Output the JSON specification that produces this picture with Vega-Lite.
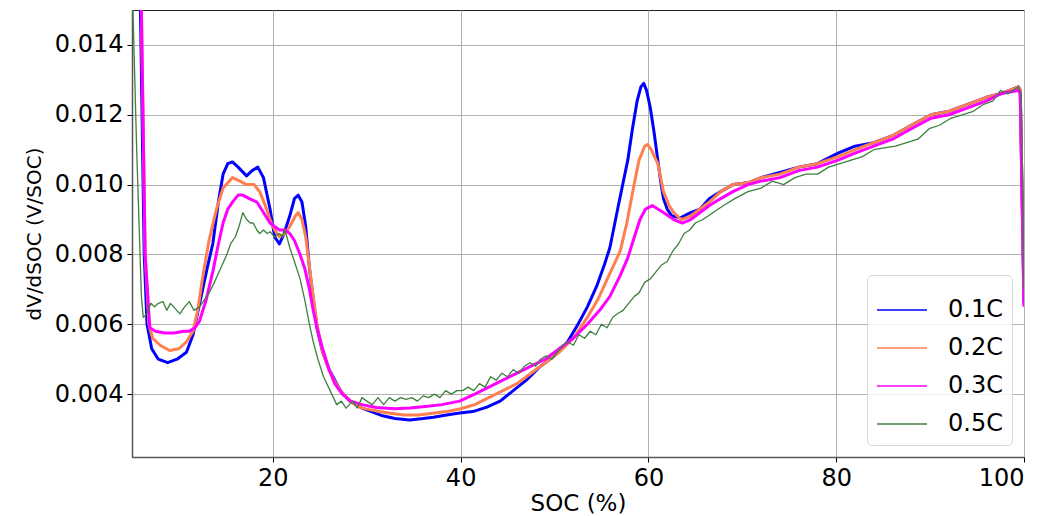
{
  "$schema": "https://vega.github.io/schema/vega-lite/v6.json",
  "width": 892,
  "height": 447,
  "autosize": "none",
  "padding": {"left": 132, "top": 10, "right": 28, "bottom": 59},
  "background": "white",
  "config": {
    "font": "DejaVu Sans",
    "view": {"stroke": "#222", "strokeWidth": 1},
    "axis": {
      "labelFont": "DejaVu Sans", "titleFont": "DejaVu Sans",
      "labelFontSize": 24, "titleFontSize": 23, "labelColor": "#000", "titleColor": "#000",
      "titleFontWeight": "normal", "gridColor": "#b0b0b0", "gridWidth": 1, "gridOpacity": 1,
      "domainColor": "#555", "domainWidth": 1.5, "tickColor": "#000", "tickSize": 5, "labelPadding": 4
    },
    "legend": {"symbolStrokeWidth": 1.5}
  },
  "data": {"values": [
    {"soc":5.3,"v":0.02,"rate":"0.1C"},{"soc":5.9,"v":0.015,"rate":"0.1C"},{"soc":6.3,"v":0.008,"rate":"0.1C"},{"soc":6.6,"v":0.006,"rate":"0.1C"},{"soc":7.1,"v":0.0053,"rate":"0.1C"},{"soc":7.8,"v":0.005,"rate":"0.1C"},{"soc":8.8,"v":0.0049,"rate":"0.1C"},{"soc":9.8,"v":0.005,"rate":"0.1C"},{"soc":10.8,"v":0.0052,"rate":"0.1C"},{"soc":11.5,"v":0.0057,"rate":"0.1C"},{"soc":12.2,"v":0.0066,"rate":"0.1C"},{"soc":13.0,"v":0.0076,"rate":"0.1C"},{"soc":13.6,"v":0.0083,"rate":"0.1C"},{"soc":14.2,"v":0.0095,"rate":"0.1C"},{"soc":14.7,"v":0.0103,"rate":"0.1C"},{"soc":15.2,"v":0.0106,"rate":"0.1C"},{"soc":15.7,"v":0.01065,"rate":"0.1C"},{"soc":16.3,"v":0.0105,"rate":"0.1C"},{"soc":17.2,"v":0.01025,"rate":"0.1C"},{"soc":17.8,"v":0.0104,"rate":"0.1C"},{"soc":18.4,"v":0.0105,"rate":"0.1C"},{"soc":19.0,"v":0.0102,"rate":"0.1C"},{"soc":19.7,"v":0.0093,"rate":"0.1C"},{"soc":20.2,"v":0.0085,"rate":"0.1C"},{"soc":20.7,"v":0.0083,"rate":"0.1C"},{"soc":21.2,"v":0.0086,"rate":"0.1C"},{"soc":21.8,"v":0.0091,"rate":"0.1C"},{"soc":22.3,"v":0.0096,"rate":"0.1C"},{"soc":22.7,"v":0.0097,"rate":"0.1C"},{"soc":23.1,"v":0.0095,"rate":"0.1C"},{"soc":23.5,"v":0.0088,"rate":"0.1C"},{"soc":23.9,"v":0.0076,"rate":"0.1C"},{"soc":24.3,"v":0.0067,"rate":"0.1C"},{"soc":24.7,"v":0.0059,"rate":"0.1C"},{"soc":25.3,"v":0.0052,"rate":"0.1C"},{"soc":26.0,"v":0.0047,"rate":"0.1C"},{"soc":26.4,"v":0.0045,"rate":"0.1C"},{"soc":27.2,"v":0.0041,"rate":"0.1C"},{"soc":28.2,"v":0.0038,"rate":"0.1C"},{"soc":29.5,"v":0.0036,"rate":"0.1C"},{"soc":30.5,"v":0.0035,"rate":"0.1C"},{"soc":31.7,"v":0.00338,"rate":"0.1C"},{"soc":33.0,"v":0.0033,"rate":"0.1C"},{"soc":34.6,"v":0.00326,"rate":"0.1C"},{"soc":36.0,"v":0.0033,"rate":"0.1C"},{"soc":37.1,"v":0.00334,"rate":"0.1C"},{"soc":38.5,"v":0.0034,"rate":"0.1C"},{"soc":39.9,"v":0.00346,"rate":"0.1C"},{"soc":41.3,"v":0.0035,"rate":"0.1C"},{"soc":42.8,"v":0.00363,"rate":"0.1C"},{"soc":44.2,"v":0.0038,"rate":"0.1C"},{"soc":45.6,"v":0.0041,"rate":"0.1C"},{"soc":47.0,"v":0.0044,"rate":"0.1C"},{"soc":48.5,"v":0.0048,"rate":"0.1C"},{"soc":50.0,"v":0.0051,"rate":"0.1C"},{"soc":51.4,"v":0.0055,"rate":"0.1C"},{"soc":52.5,"v":0.006,"rate":"0.1C"},{"soc":53.5,"v":0.0065,"rate":"0.1C"},{"soc":54.5,"v":0.0071,"rate":"0.1C"},{"soc":55.3,"v":0.0077,"rate":"0.1C"},{"soc":55.9,"v":0.0082,"rate":"0.1C"},{"soc":56.8,"v":0.0094,"rate":"0.1C"},{"soc":57.8,"v":0.0107,"rate":"0.1C"},{"soc":58.3,"v":0.0116,"rate":"0.1C"},{"soc":58.8,"v":0.0124,"rate":"0.1C"},{"soc":59.2,"v":0.0128,"rate":"0.1C"},{"soc":59.5,"v":0.0129,"rate":"0.1C"},{"soc":59.8,"v":0.0127,"rate":"0.1C"},{"soc":60.2,"v":0.0122,"rate":"0.1C"},{"soc":60.6,"v":0.0115,"rate":"0.1C"},{"soc":61.0,"v":0.0107,"rate":"0.1C"},{"soc":61.3,"v":0.0101,"rate":"0.1C"},{"soc":61.6,"v":0.0096,"rate":"0.1C"},{"soc":62.0,"v":0.0093,"rate":"0.1C"},{"soc":62.5,"v":0.0091,"rate":"0.1C"},{"soc":63.4,"v":0.00905,"rate":"0.1C"},{"soc":64.5,"v":0.0092,"rate":"0.1C"},{"soc":65.5,"v":0.0093,"rate":"0.1C"},{"soc":66.5,"v":0.0096,"rate":"0.1C"},{"soc":67.7,"v":0.0098,"rate":"0.1C"},{"soc":69.0,"v":0.01,"rate":"0.1C"},{"soc":70.6,"v":0.01005,"rate":"0.1C"},{"soc":72.0,"v":0.0102,"rate":"0.1C"},{"soc":74.0,"v":0.01035,"rate":"0.1C"},{"soc":76.0,"v":0.0105,"rate":"0.1C"},{"soc":78.0,"v":0.0106,"rate":"0.1C"},{"soc":80.2,"v":0.0109,"rate":"0.1C"},{"soc":82.0,"v":0.0111,"rate":"0.1C"},{"soc":84.0,"v":0.0112,"rate":"0.1C"},{"soc":86.0,"v":0.0114,"rate":"0.1C"},{"soc":88.0,"v":0.0117,"rate":"0.1C"},{"soc":90.1,"v":0.012,"rate":"0.1C"},{"soc":92.0,"v":0.0121,"rate":"0.1C"},{"soc":94.0,"v":0.0123,"rate":"0.1C"},{"soc":96.0,"v":0.0125,"rate":"0.1C"},{"soc":97.5,"v":0.0126,"rate":"0.1C"},{"soc":99.4,"v":0.0128,"rate":"0.1C"},{"soc":99.6,"v":0.0127,"rate":"0.1C"},{"soc":100.0,"v":0.0066,"rate":"0.1C"},

    {"soc":5.4,"v":0.02,"rate":"0.2C"},{"soc":6.0,"v":0.015,"rate":"0.2C"},{"soc":6.4,"v":0.008,"rate":"0.2C"},{"soc":6.8,"v":0.006,"rate":"0.2C"},{"soc":7.2,"v":0.0056,"rate":"0.2C"},{"soc":8.0,"v":0.0054,"rate":"0.2C"},{"soc":9.0,"v":0.00525,"rate":"0.2C"},{"soc":10.0,"v":0.0053,"rate":"0.2C"},{"soc":10.8,"v":0.0055,"rate":"0.2C"},{"soc":11.5,"v":0.0058,"rate":"0.2C"},{"soc":12.0,"v":0.0064,"rate":"0.2C"},{"soc":12.5,"v":0.0073,"rate":"0.2C"},{"soc":13.2,"v":0.0084,"rate":"0.2C"},{"soc":14.0,"v":0.0093,"rate":"0.2C"},{"soc":14.7,"v":0.0099,"rate":"0.2C"},{"soc":15.7,"v":0.0102,"rate":"0.2C"},{"soc":16.5,"v":0.0101,"rate":"0.2C"},{"soc":17.2,"v":0.01,"rate":"0.2C"},{"soc":18.0,"v":0.01,"rate":"0.2C"},{"soc":18.6,"v":0.0098,"rate":"0.2C"},{"soc":19.2,"v":0.0094,"rate":"0.2C"},{"soc":19.7,"v":0.009,"rate":"0.2C"},{"soc":20.2,"v":0.0087,"rate":"0.2C"},{"soc":20.7,"v":0.0085,"rate":"0.2C"},{"soc":21.3,"v":0.0086,"rate":"0.2C"},{"soc":21.8,"v":0.0088,"rate":"0.2C"},{"soc":22.4,"v":0.0091,"rate":"0.2C"},{"soc":22.7,"v":0.0092,"rate":"0.2C"},{"soc":23.1,"v":0.009,"rate":"0.2C"},{"soc":23.5,"v":0.0085,"rate":"0.2C"},{"soc":24.2,"v":0.007,"rate":"0.2C"},{"soc":24.7,"v":0.006,"rate":"0.2C"},{"soc":25.3,"v":0.0052,"rate":"0.2C"},{"soc":26.0,"v":0.0047,"rate":"0.2C"},{"soc":26.5,"v":0.0044,"rate":"0.2C"},{"soc":27.2,"v":0.0041,"rate":"0.2C"},{"soc":28.2,"v":0.0038,"rate":"0.2C"},{"soc":29.5,"v":0.0036,"rate":"0.2C"},{"soc":31.0,"v":0.00352,"rate":"0.2C"},{"soc":32.5,"v":0.00345,"rate":"0.2C"},{"soc":34.0,"v":0.0034,"rate":"0.2C"},{"soc":35.5,"v":0.0034,"rate":"0.2C"},{"soc":37.0,"v":0.00345,"rate":"0.2C"},{"soc":38.5,"v":0.0035,"rate":"0.2C"},{"soc":40.0,"v":0.00358,"rate":"0.2C"},{"soc":41.5,"v":0.0037,"rate":"0.2C"},{"soc":43.0,"v":0.0039,"rate":"0.2C"},{"soc":44.5,"v":0.0041,"rate":"0.2C"},{"soc":46.0,"v":0.0043,"rate":"0.2C"},{"soc":47.5,"v":0.0046,"rate":"0.2C"},{"soc":49.0,"v":0.0049,"rate":"0.2C"},{"soc":50.5,"v":0.0052,"rate":"0.2C"},{"soc":52.0,"v":0.0056,"rate":"0.2C"},{"soc":53.5,"v":0.0062,"rate":"0.2C"},{"soc":54.6,"v":0.0067,"rate":"0.2C"},{"soc":55.8,"v":0.0074,"rate":"0.2C"},{"soc":57.0,"v":0.0081,"rate":"0.2C"},{"soc":57.7,"v":0.0089,"rate":"0.2C"},{"soc":58.4,"v":0.0099,"rate":"0.2C"},{"soc":59.0,"v":0.0107,"rate":"0.2C"},{"soc":59.6,"v":0.0111,"rate":"0.2C"},{"soc":59.9,"v":0.01115,"rate":"0.2C"},{"soc":60.3,"v":0.011,"rate":"0.2C"},{"soc":61.0,"v":0.0106,"rate":"0.2C"},{"soc":61.6,"v":0.0098,"rate":"0.2C"},{"soc":62.2,"v":0.0094,"rate":"0.2C"},{"soc":62.7,"v":0.0092,"rate":"0.2C"},{"soc":63.5,"v":0.009,"rate":"0.2C"},{"soc":64.5,"v":0.0091,"rate":"0.2C"},{"soc":65.5,"v":0.0093,"rate":"0.2C"},{"soc":66.5,"v":0.0095,"rate":"0.2C"},{"soc":67.7,"v":0.0098,"rate":"0.2C"},{"soc":69.0,"v":0.01,"rate":"0.2C"},{"soc":70.6,"v":0.01005,"rate":"0.2C"},{"soc":72.0,"v":0.0102,"rate":"0.2C"},{"soc":74.0,"v":0.0103,"rate":"0.2C"},{"soc":76.0,"v":0.0105,"rate":"0.2C"},{"soc":78.0,"v":0.0106,"rate":"0.2C"},{"soc":80.2,"v":0.0108,"rate":"0.2C"},{"soc":82.0,"v":0.011,"rate":"0.2C"},{"soc":84.0,"v":0.0112,"rate":"0.2C"},{"soc":86.0,"v":0.0114,"rate":"0.2C"},{"soc":88.0,"v":0.0117,"rate":"0.2C"},{"soc":90.1,"v":0.012,"rate":"0.2C"},{"soc":92.0,"v":0.0121,"rate":"0.2C"},{"soc":94.0,"v":0.0123,"rate":"0.2C"},{"soc":96.0,"v":0.0125,"rate":"0.2C"},{"soc":97.5,"v":0.0126,"rate":"0.2C"},{"soc":99.4,"v":0.0128,"rate":"0.2C"},{"soc":99.6,"v":0.0127,"rate":"0.2C"},{"soc":100.0,"v":0.0068,"rate":"0.2C"},

    {"soc":5.5,"v":0.02,"rate":"0.3C"},{"soc":6.0,"v":0.015,"rate":"0.3C"},{"soc":6.4,"v":0.008,"rate":"0.3C"},{"soc":6.9,"v":0.0059,"rate":"0.3C"},{"soc":7.5,"v":0.0058,"rate":"0.3C"},{"soc":8.5,"v":0.00575,"rate":"0.3C"},{"soc":9.5,"v":0.00575,"rate":"0.3C"},{"soc":10.5,"v":0.0058,"rate":"0.3C"},{"soc":11.1,"v":0.0058,"rate":"0.3C"},{"soc":11.7,"v":0.0059,"rate":"0.3C"},{"soc":12.2,"v":0.0061,"rate":"0.3C"},{"soc":12.9,"v":0.0067,"rate":"0.3C"},{"soc":13.6,"v":0.0075,"rate":"0.3C"},{"soc":14.2,"v":0.0083,"rate":"0.3C"},{"soc":14.7,"v":0.0089,"rate":"0.3C"},{"soc":15.2,"v":0.0093,"rate":"0.3C"},{"soc":15.7,"v":0.0095,"rate":"0.3C"},{"soc":16.3,"v":0.0097,"rate":"0.3C"},{"soc":16.8,"v":0.0097,"rate":"0.3C"},{"soc":17.5,"v":0.0096,"rate":"0.3C"},{"soc":18.3,"v":0.0095,"rate":"0.3C"},{"soc":19.0,"v":0.0092,"rate":"0.3C"},{"soc":19.7,"v":0.0089,"rate":"0.3C"},{"soc":20.2,"v":0.0088,"rate":"0.3C"},{"soc":20.7,"v":0.0087,"rate":"0.3C"},{"soc":21.3,"v":0.0087,"rate":"0.3C"},{"soc":21.8,"v":0.0086,"rate":"0.3C"},{"soc":22.3,"v":0.0084,"rate":"0.3C"},{"soc":22.9,"v":0.008,"rate":"0.3C"},{"soc":23.4,"v":0.0076,"rate":"0.3C"},{"soc":23.9,"v":0.007,"rate":"0.3C"},{"soc":24.3,"v":0.0064,"rate":"0.3C"},{"soc":24.7,"v":0.0059,"rate":"0.3C"},{"soc":25.3,"v":0.0053,"rate":"0.3C"},{"soc":26.0,"v":0.0047,"rate":"0.3C"},{"soc":26.6,"v":0.0043,"rate":"0.3C"},{"soc":27.4,"v":0.004,"rate":"0.3C"},{"soc":28.3,"v":0.0038,"rate":"0.3C"},{"soc":29.5,"v":0.0037,"rate":"0.3C"},{"soc":31.0,"v":0.00362,"rate":"0.3C"},{"soc":33.0,"v":0.00358,"rate":"0.3C"},{"soc":34.6,"v":0.0036,"rate":"0.3C"},{"soc":36.5,"v":0.00365,"rate":"0.3C"},{"soc":38.0,"v":0.0037,"rate":"0.3C"},{"soc":39.9,"v":0.0038,"rate":"0.3C"},{"soc":41.5,"v":0.004,"rate":"0.3C"},{"soc":43.0,"v":0.0042,"rate":"0.3C"},{"soc":44.5,"v":0.0044,"rate":"0.3C"},{"soc":46.0,"v":0.0046,"rate":"0.3C"},{"soc":47.5,"v":0.0048,"rate":"0.3C"},{"soc":49.0,"v":0.005,"rate":"0.3C"},{"soc":50.5,"v":0.0053,"rate":"0.3C"},{"soc":52.0,"v":0.0056,"rate":"0.3C"},{"soc":53.5,"v":0.006,"rate":"0.3C"},{"soc":54.8,"v":0.0064,"rate":"0.3C"},{"soc":55.9,"v":0.0068,"rate":"0.3C"},{"soc":57.0,"v":0.0074,"rate":"0.3C"},{"soc":57.8,"v":0.0079,"rate":"0.3C"},{"soc":58.5,"v":0.0085,"rate":"0.3C"},{"soc":59.1,"v":0.009,"rate":"0.3C"},{"soc":59.7,"v":0.0093,"rate":"0.3C"},{"soc":60.4,"v":0.0094,"rate":"0.3C"},{"soc":61.0,"v":0.0093,"rate":"0.3C"},{"soc":61.6,"v":0.0092,"rate":"0.3C"},{"soc":62.7,"v":0.009,"rate":"0.3C"},{"soc":63.6,"v":0.0089,"rate":"0.3C"},{"soc":64.5,"v":0.009,"rate":"0.3C"},{"soc":65.5,"v":0.0092,"rate":"0.3C"},{"soc":66.5,"v":0.0094,"rate":"0.3C"},{"soc":67.7,"v":0.0096,"rate":"0.3C"},{"soc":69.0,"v":0.0098,"rate":"0.3C"},{"soc":70.6,"v":0.01,"rate":"0.3C"},{"soc":72.0,"v":0.0101,"rate":"0.3C"},{"soc":74.0,"v":0.0102,"rate":"0.3C"},{"soc":76.0,"v":0.0104,"rate":"0.3C"},{"soc":78.0,"v":0.0105,"rate":"0.3C"},{"soc":80.2,"v":0.0107,"rate":"0.3C"},{"soc":82.0,"v":0.0109,"rate":"0.3C"},{"soc":84.0,"v":0.0111,"rate":"0.3C"},{"soc":86.0,"v":0.0113,"rate":"0.3C"},{"soc":88.0,"v":0.0116,"rate":"0.3C"},{"soc":90.1,"v":0.0119,"rate":"0.3C"},{"soc":92.0,"v":0.012,"rate":"0.3C"},{"soc":94.0,"v":0.0122,"rate":"0.3C"},{"soc":96.0,"v":0.0124,"rate":"0.3C"},{"soc":97.5,"v":0.0126,"rate":"0.3C"},{"soc":99.4,"v":0.0127,"rate":"0.3C"},{"soc":99.6,"v":0.0126,"rate":"0.3C"},{"soc":100.0,"v":0.0065,"rate":"0.3C"},

    {"soc":5.0,"v":0.016,"rate":"0.5C"},{"soc":5.5,"v":0.011,"rate":"0.5C"},{"soc":6.0,"v":0.0068,"rate":"0.5C"},{"soc":6.2,"v":0.0062,"rate":"0.5C"},{"soc":6.6,"v":0.0063,"rate":"0.5C"},{"soc":7.0,"v":0.0066,"rate":"0.5C"},{"soc":7.4,"v":0.0065,"rate":"0.5C"},{"soc":7.8,"v":0.0066,"rate":"0.5C"},{"soc":8.3,"v":0.00665,"rate":"0.5C"},{"soc":8.7,"v":0.0064,"rate":"0.5C"},{"soc":9.1,"v":0.0066,"rate":"0.5C"},{"soc":9.6,"v":0.00645,"rate":"0.5C"},{"soc":10.1,"v":0.0063,"rate":"0.5C"},{"soc":10.6,"v":0.0065,"rate":"0.5C"},{"soc":11.1,"v":0.00665,"rate":"0.5C"},{"soc":11.6,"v":0.0064,"rate":"0.5C"},{"soc":12.2,"v":0.0065,"rate":"0.5C"},{"soc":12.7,"v":0.0067,"rate":"0.5C"},{"soc":13.2,"v":0.0069,"rate":"0.5C"},{"soc":13.6,"v":0.0071,"rate":"0.5C"},{"soc":14.1,"v":0.0074,"rate":"0.5C"},{"soc":14.6,"v":0.0077,"rate":"0.5C"},{"soc":15.1,"v":0.008,"rate":"0.5C"},{"soc":15.5,"v":0.0083,"rate":"0.5C"},{"soc":16.0,"v":0.0085,"rate":"0.5C"},{"soc":16.4,"v":0.0088,"rate":"0.5C"},{"soc":16.8,"v":0.0092,"rate":"0.5C"},{"soc":17.2,"v":0.009,"rate":"0.5C"},{"soc":17.6,"v":0.0089,"rate":"0.5C"},{"soc":17.9,"v":0.0089,"rate":"0.5C"},{"soc":18.3,"v":0.0087,"rate":"0.5C"},{"soc":18.6,"v":0.0086,"rate":"0.5C"},{"soc":19.0,"v":0.0087,"rate":"0.5C"},{"soc":19.4,"v":0.0086,"rate":"0.5C"},{"soc":19.7,"v":0.00865,"rate":"0.5C"},{"soc":20.2,"v":0.0085,"rate":"0.5C"},{"soc":20.7,"v":0.0086,"rate":"0.5C"},{"soc":21.0,"v":0.0085,"rate":"0.5C"},{"soc":21.3,"v":0.0087,"rate":"0.5C"},{"soc":21.8,"v":0.0082,"rate":"0.5C"},{"soc":22.3,"v":0.0078,"rate":"0.5C"},{"soc":22.9,"v":0.0073,"rate":"0.5C"},{"soc":23.4,"v":0.0067,"rate":"0.5C"},{"soc":23.9,"v":0.006,"rate":"0.5C"},{"soc":24.3,"v":0.0055,"rate":"0.5C"},{"soc":24.8,"v":0.005,"rate":"0.5C"},{"soc":25.4,"v":0.0045,"rate":"0.5C"},{"soc":26.1,"v":0.0041,"rate":"0.5C"},{"soc":26.8,"v":0.0037,"rate":"0.5C"},{"soc":27.3,"v":0.0038,"rate":"0.5C"},{"soc":27.8,"v":0.0036,"rate":"0.5C"},{"soc":28.5,"v":0.0038,"rate":"0.5C"},{"soc":29.0,"v":0.0036,"rate":"0.5C"},{"soc":29.5,"v":0.0039,"rate":"0.5C"},{"soc":30.0,"v":0.0038,"rate":"0.5C"},{"soc":30.6,"v":0.0037,"rate":"0.5C"},{"soc":31.2,"v":0.0039,"rate":"0.5C"},{"soc":31.8,"v":0.0037,"rate":"0.5C"},{"soc":32.4,"v":0.0039,"rate":"0.5C"},{"soc":33.0,"v":0.0038,"rate":"0.5C"},{"soc":33.6,"v":0.0039,"rate":"0.5C"},{"soc":34.2,"v":0.00385,"rate":"0.5C"},{"soc":34.8,"v":0.0039,"rate":"0.5C"},{"soc":35.4,"v":0.0038,"rate":"0.5C"},{"soc":36.0,"v":0.00395,"rate":"0.5C"},{"soc":36.6,"v":0.0039,"rate":"0.5C"},{"soc":37.2,"v":0.004,"rate":"0.5C"},{"soc":37.8,"v":0.0039,"rate":"0.5C"},{"soc":38.4,"v":0.0041,"rate":"0.5C"},{"soc":39.0,"v":0.004,"rate":"0.5C"},{"soc":39.6,"v":0.0041,"rate":"0.5C"},{"soc":40.2,"v":0.0041,"rate":"0.5C"},{"soc":40.8,"v":0.0042,"rate":"0.5C"},{"soc":41.4,"v":0.0041,"rate":"0.5C"},{"soc":42.0,"v":0.0043,"rate":"0.5C"},{"soc":42.6,"v":0.0042,"rate":"0.5C"},{"soc":43.2,"v":0.0045,"rate":"0.5C"},{"soc":43.8,"v":0.0044,"rate":"0.5C"},{"soc":44.4,"v":0.0046,"rate":"0.5C"},{"soc":45.0,"v":0.0045,"rate":"0.5C"},{"soc":45.6,"v":0.0047,"rate":"0.5C"},{"soc":46.2,"v":0.0046,"rate":"0.5C"},{"soc":46.8,"v":0.0048,"rate":"0.5C"},{"soc":47.4,"v":0.0049,"rate":"0.5C"},{"soc":48.0,"v":0.0048,"rate":"0.5C"},{"soc":48.5,"v":0.005,"rate":"0.5C"},{"soc":49.1,"v":0.0051,"rate":"0.5C"},{"soc":49.7,"v":0.005,"rate":"0.5C"},{"soc":50.3,"v":0.0052,"rate":"0.5C"},{"soc":50.9,"v":0.0054,"rate":"0.5C"},{"soc":51.4,"v":0.0055,"rate":"0.5C"},{"soc":52.0,"v":0.0054,"rate":"0.5C"},{"soc":52.6,"v":0.0057,"rate":"0.5C"},{"soc":53.2,"v":0.0056,"rate":"0.5C"},{"soc":53.8,"v":0.0058,"rate":"0.5C"},{"soc":54.4,"v":0.0057,"rate":"0.5C"},{"soc":55.0,"v":0.006,"rate":"0.5C"},{"soc":55.6,"v":0.0059,"rate":"0.5C"},{"soc":56.2,"v":0.0062,"rate":"0.5C"},{"soc":56.7,"v":0.0063,"rate":"0.5C"},{"soc":57.3,"v":0.0064,"rate":"0.5C"},{"soc":57.9,"v":0.0066,"rate":"0.5C"},{"soc":58.5,"v":0.0068,"rate":"0.5C"},{"soc":59.0,"v":0.0069,"rate":"0.5C"},{"soc":59.6,"v":0.0072,"rate":"0.5C"},{"soc":60.2,"v":0.0073,"rate":"0.5C"},{"soc":60.8,"v":0.0075,"rate":"0.5C"},{"soc":61.4,"v":0.0077,"rate":"0.5C"},{"soc":62.0,"v":0.0078,"rate":"0.5C"},{"soc":62.6,"v":0.0081,"rate":"0.5C"},{"soc":63.2,"v":0.0083,"rate":"0.5C"},{"soc":63.8,"v":0.0086,"rate":"0.5C"},{"soc":64.4,"v":0.0087,"rate":"0.5C"},{"soc":65.0,"v":0.0089,"rate":"0.5C"},{"soc":65.8,"v":0.009,"rate":"0.5C"},{"soc":66.9,"v":0.0092,"rate":"0.5C"},{"soc":68.0,"v":0.0094,"rate":"0.5C"},{"soc":69.2,"v":0.0096,"rate":"0.5C"},{"soc":70.6,"v":0.0098,"rate":"0.5C"},{"soc":72.0,"v":0.0099,"rate":"0.5C"},{"soc":73.2,"v":0.0101,"rate":"0.5C"},{"soc":74.4,"v":0.01,"rate":"0.5C"},{"soc":75.6,"v":0.0102,"rate":"0.5C"},{"soc":76.8,"v":0.0103,"rate":"0.5C"},{"soc":78.0,"v":0.0103,"rate":"0.5C"},{"soc":79.2,"v":0.0105,"rate":"0.5C"},{"soc":80.4,"v":0.0106,"rate":"0.5C"},{"soc":81.6,"v":0.0107,"rate":"0.5C"},{"soc":82.8,"v":0.0108,"rate":"0.5C"},{"soc":84.0,"v":0.011,"rate":"0.5C"},{"soc":85.1,"v":0.01105,"rate":"0.5C"},{"soc":86.3,"v":0.0111,"rate":"0.5C"},{"soc":87.5,"v":0.0112,"rate":"0.5C"},{"soc":88.7,"v":0.0113,"rate":"0.5C"},{"soc":89.9,"v":0.0116,"rate":"0.5C"},{"soc":91.0,"v":0.0117,"rate":"0.5C"},{"soc":92.2,"v":0.0119,"rate":"0.5C"},{"soc":93.4,"v":0.012,"rate":"0.5C"},{"soc":94.6,"v":0.0121,"rate":"0.5C"},{"soc":95.7,"v":0.0123,"rate":"0.5C"},{"soc":96.7,"v":0.0124,"rate":"0.5C"},{"soc":97.5,"v":0.0127,"rate":"0.5C"},{"soc":98.3,"v":0.0126,"rate":"0.5C"},{"soc":99.4,"v":0.0128,"rate":"0.5C"},{"soc":99.7,"v":0.0126,"rate":"0.5C"},{"soc":100.0,"v":0.007,"rate":"0.5C"}
  ]},
  "encoding": {
    "x": {
      "field": "soc", "type": "quantitative", "title": "SOC (%)",
      "scale": {"domain": [5, 100], "nice": false, "zero": false},
      "axis": {"values": [20, 40, 60, 80, 100], "grid": true, "titlePadding": 2}
    },
    "y": {
      "field": "v", "type": "quantitative", "title": "dV/dSOC (V/SOC)",
      "scale": {"domain": [0.0022, 0.015], "nice": false, "zero": false},
      "axis": {"values": [0.004, 0.006, 0.008, 0.01, 0.012, 0.014], "format": ".3f", "grid": true, "titleFontSize": 20, "titlePadding": 10}
    },
    "color": {
      "field": "rate", "type": "nominal", "title": null,
      "scale": {"domain": ["0.1C", "0.2C", "0.3C", "0.5C"], "range": ["#0000ff", "#ff7f50", "#ff00ff", "#3f7f3f"]},
      "legend": {
        "orient": "bottom-right", "offset": 12, "symbolType": "stroke", "symbolSize": 2500, "symbolStrokeWidth": 1.5,
        "labelFontSize": 24, "labelFont": "DejaVu Sans", "labelColor": "#000", "labelOffset": 20, "rowPadding": -13,
        "padding": 9, "strokeColor": "#d8d8d8", "fillColor": "rgba(255,255,255,0.8)", "cornerRadius": 5
      }
    }
  },
  "layer": [
    {
      "transform": [{"filter": "datum.rate !== '0.5C'"}],
      "mark": {"type": "line", "clip": true, "strokeJoin": "round"},
      "encoding": {"strokeWidth": {"value": 3}}
    },
    {
      "transform": [{"filter": "datum.rate === '0.5C'"}],
      "mark": {"type": "line", "clip": true, "strokeJoin": "round"},
      "encoding": {"strokeWidth": {"value": 1.3}}
    }
  ]
}
